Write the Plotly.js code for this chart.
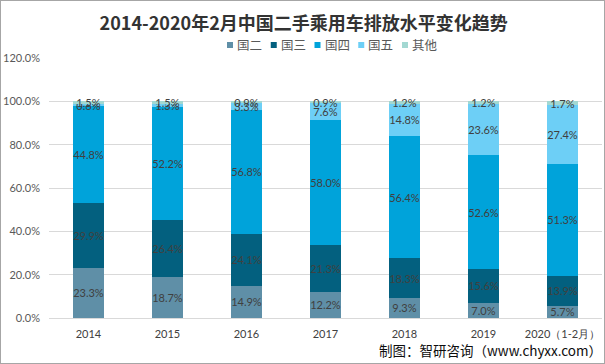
<!DOCTYPE html>
<html>
<head>
<meta charset="utf-8">
<script src="https://cdn.plot.ly/plotly-3.0.1.min.js"></script>
<style>
html,body{margin:0;padding:0;background:#fff;}
#wrap{width:605px;height:364px;box-sizing:border-box;border:1px solid #a6a6a6;overflow:hidden;}
#chart{width:603px;height:362px;}
</style>
</head>
<body>
<div id="wrap"><div id="chart"></div></div>
<script>
const categories = ['2014','2015','2016','2017','2018','2019','2020（1-2月）'];
const guoEr   = [23.3, 18.7, 14.9, 12.2, 9.3, 7.0, 5.7];
const guoSan  = [29.9, 26.4, 24.1, 21.3, 18.3, 15.6, 13.9];
const guoSi   = [44.8, 52.2, 56.8, 58.0, 56.4, 52.6, 51.3];
const guoWu   = [0.6, 1.3, 3.3, 7.6, 14.8, 23.6, 27.4];
const qiTa    = [1.5, 1.5, 0.9, 0.9, 1.2, 1.2, 1.7];
const seriesNames = ['国二','国三','国四','国五','其他'];
const seriesColors = ['#5f8fa7','#03607f','#00a3da','#6dcff6','#a3d8d2'];
const seriesData = [guoEr, guoSan, guoSi, guoWu, qiTa];

const NUMFONT = 'Lato, "Noto Sans", sans-serif';
const CJKFONT = '"Noto Sans CJK SC", sans-serif';

const traces = seriesData.map((vals, i) => ({
  type: 'bar',
  name: seriesNames[i],
  x: categories,
  y: vals,
  marker: {color: seriesColors[i]},
  text: vals.map(v => v.toFixed(1) + '%'),
  textposition: 'inside',
  insidetextanchor: 'middle',
  textangle: 0,
  constraintext: 'none',
  cliponaxis: false,
  textfont: {family: NUMFONT, size: 11, color: '#404040'},
  hoverinfo: 'none',
  showlegend: false
}));

// plot area geometry (image pixels) used only to place the custom legend
const PL = 49, PW = 553, PB = 318, PH = 260;
const px2x = p => (p - PL) / PW;
const px2y = p => (PB - p) / PH;

const shapes = [];
const annotations = [];
seriesNames.forEach((name, i) => {
  const sx = 227 + i * 43.75;
  shapes.push({
    type: 'rect', xref: 'paper', yref: 'paper',
    x0: px2x(sx), x1: px2x(sx + 6),
    y0: px2y(48), y1: px2y(42),
    fillcolor: seriesColors[i], line: {width: 0}
  });
  annotations.push({
    text: name, xref: 'paper', yref: 'paper',
    x: px2x(sx + 9), xanchor: 'left',
    y: px2y(45), yanchor: 'middle',
    showarrow: false, borderpad: 0,
    font: {family: CJKFONT, size: 12.5, color: '#595959'}
  });
});
annotations.push({
  text: '制图：智研咨询（www.chyxx.com）',
  xref: 'paper', yref: 'paper',
  x: px2x(603), xanchor: 'right',
  y: px2y(350), yanchor: 'middle',
  showarrow: false, borderpad: 0,
  font: {family: CJKFONT, size: 13.5, color: '#0d0d0d'}
});

const layout = {
  width: 603,
  height: 362,
  barmode: 'stack',
  bargap: 0.61,
  margin: {l: 48, r: 2, t: 57, b: 45},
  paper_bgcolor: '#ffffff',
  plot_bgcolor: '#ffffff',
  font: {family: NUMFONT, size: 11, color: '#595959'},
  uniformtext: {mode: 'show', minsize: 11},
  showlegend: false,
  title: {
    text: '<b>2014-2020年2月中国二手乘用车排放水平变化趋势</b>',
    font: {family: CJKFONT, size: 18, color: '#333333'},
    x: 0.502, xanchor: 'center', xref: 'container',
    y: 0.938, yanchor: 'middle', yref: 'container'
  },
  xaxis: {
    type: 'category',
    tickfont: {family: NUMFONT, size: 11, color: '#404040'},
    showline: false,
    ticks: '',
    showgrid: false,
    zeroline: false,
    ticklabelstandoff: 8
  },
  yaxis: {
    range: [0, 120],
    dtick: 20,
    tickformat: '.1f',
    ticksuffix: '%',
    showgrid: true,
    gridcolor: '#d9d9d9',
    gridwidth: 1,
    zeroline: true,
    zerolinecolor: '#d9d9d9',
    zerolinewidth: 1,
    showline: false,
    ticks: '',
    ticklabelstandoff: 8,
    tickfont: {family: NUMFONT, size: 11, color: '#595959'}
  },
  shapes: shapes,
  annotations: annotations
};

Plotly.newPlot('chart', traces, layout, {displayModeBar: false, staticPlot: true});
</script>
</body>
</html>
